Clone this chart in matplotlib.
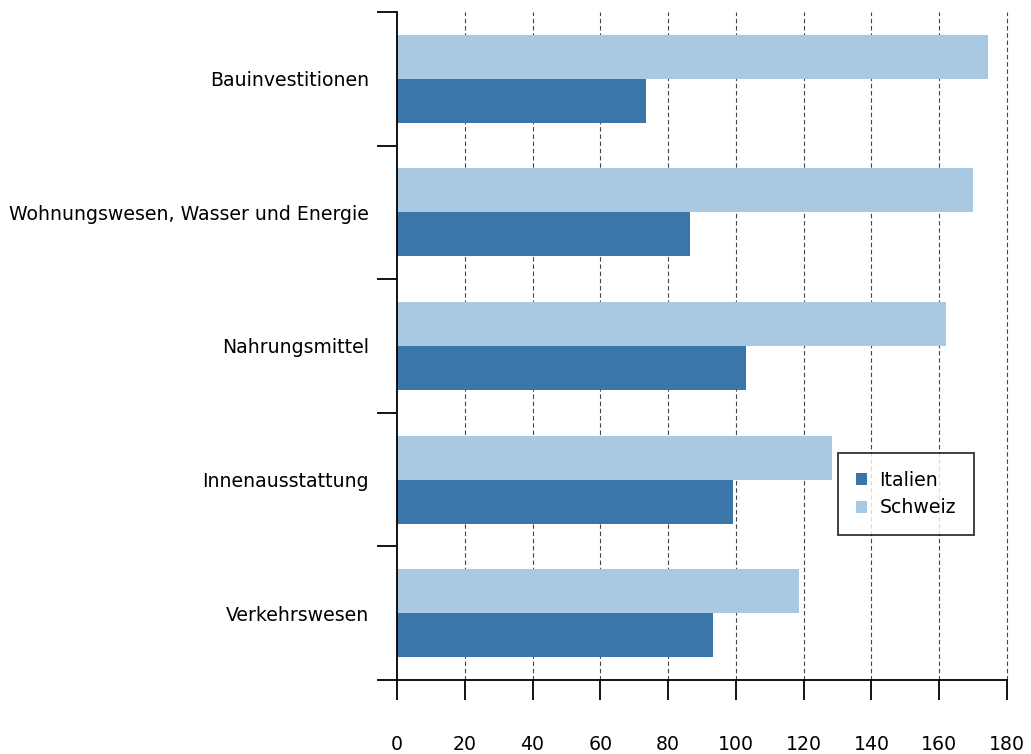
import numpy as np
import matplotlib.pyplot as plt

# categories top to bottom
categories = ["Bauinvestitionen", "Wohnungswesen, Wasser und Energie",
              "Nahrungsmittel", "Innenausstattung", "Verkehrswesen"]
italien = [73.5, 86.5, 103, 99, 93.2]
schweiz = [174.3, 170, 162, 128.5, 118.6]
xticks = [0, 20, 40, 60, 80, 100, 120, 140, 160, 180]

plt.rcParams['font.family'] = ['DejaVu Sans']

fig = plt.figure(figsize=(10.31, 7.54), dpi=100)
ax = fig.add_axes([397 / 1031, 74 / 754, 610 / 1031, 668 / 754])

y = np.arange(len(categories))
h = 0.33
ax.barh(y - h / 2, schweiz, height=h, color="#a9c9e3", label="Schweiz", zorder=2)
ax.barh(y + h / 2, italien, height=h, color="#3a77a8", label="Italien", zorder=2)

ax.set_xlim(0, 180)
ax.set_ylim(len(categories) - 0.5, -0.5)

fs = 13.6
ax.set_xticks(xticks)
ax.tick_params(axis='x', length=14.4, width=1.3, pad=25, labelsize=fs)
ax.set_yticks(y)
ax.set_yticklabels(categories)
ax.tick_params(axis='y', which='major', length=0, pad=20, labelsize=fs)
ax.set_yticks(np.arange(-0.5, len(categories)), minor=True)
ax.tick_params(axis='y', which='minor', length=14.4, width=1.3)

for s in ['top', 'right']:
    ax.spines[s].set_visible(False)
for s in ['left', 'bottom']:
    ax.spines[s].set_linewidth(1.3)

for xv in xticks[1:]:
    ax.axvline(xv, color='#444444', linestyle=(0, (4, 2.5)), linewidth=0.8,
               zorder=1, clip_on=False)

handles, labels = ax.get_legend_handles_labels()
leg = ax.legend(handles[::-1], labels[::-1], loc='upper left',
                bbox_to_anchor=(441 / 610, 1 - 441 / 668), fontsize=fs,
                frameon=True, fancybox=False, edgecolor='black',
                handlelength=0.6, handleheight=0.6, borderpad=0.95,
                handletextpad=0.65, labelspacing=0.45, borderaxespad=0)
leg.get_frame().set_linewidth(1.3)

fig.savefig("out.png", dpi=100)
